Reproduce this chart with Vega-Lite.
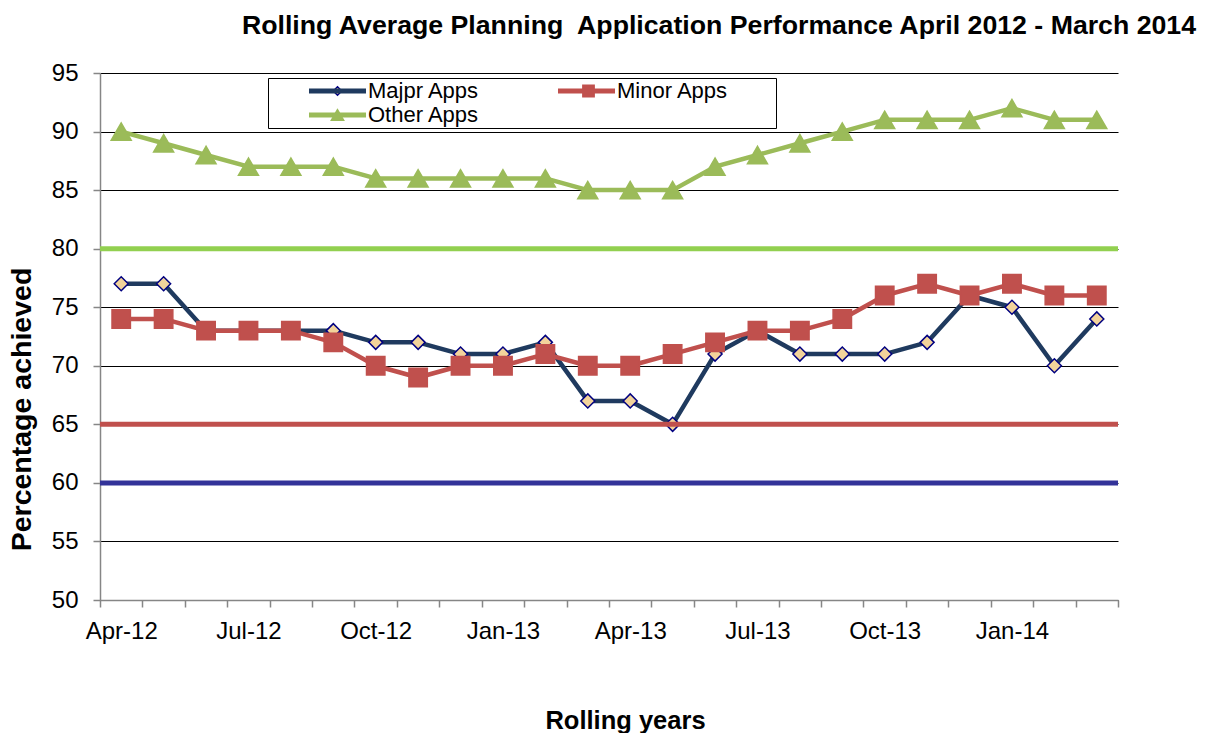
{
  "$schema": "https://vega.github.io/schema/vega-lite/v6.json",
  "width": 1018,
  "height": 527,
  "autosize": {"type": "none"},
  "padding": {"left": 100, "top": 73, "right": 94, "bottom": 133},
  "background": "white",
  "title": {
    "text": "Rolling Average Planning\u00a0 Application Performance April 2012 - March 2014",
    "fontSize": 26.7,
    "fontWeight": "bold",
    "font": "Liberation Sans",
    "color": "black",
    "anchor": "middle",
    "frame": "group",
    "dx": 110,
    "offset": 21
  },
  "datasets": {
    "perf": [
      {"month": "Apr-12", "series": "Majpr Apps", "value": 77},
      {"month": "May-12", "series": "Majpr Apps", "value": 77},
      {"month": "Jun-12", "series": "Majpr Apps", "value": 73},
      {"month": "Jul-12", "series": "Majpr Apps", "value": 73},
      {"month": "Aug-12", "series": "Majpr Apps", "value": 73},
      {"month": "Sep-12", "series": "Majpr Apps", "value": 73},
      {"month": "Oct-12", "series": "Majpr Apps", "value": 72},
      {"month": "Nov-12", "series": "Majpr Apps", "value": 72},
      {"month": "Dec-12", "series": "Majpr Apps", "value": 71},
      {"month": "Jan-13", "series": "Majpr Apps", "value": 71},
      {"month": "Feb-13", "series": "Majpr Apps", "value": 72},
      {"month": "Mar-13", "series": "Majpr Apps", "value": 67},
      {"month": "Apr-13", "series": "Majpr Apps", "value": 67},
      {"month": "May-13", "series": "Majpr Apps", "value": 65},
      {"month": "Jun-13", "series": "Majpr Apps", "value": 71},
      {"month": "Jul-13", "series": "Majpr Apps", "value": 73},
      {"month": "Aug-13", "series": "Majpr Apps", "value": 71},
      {"month": "Sep-13", "series": "Majpr Apps", "value": 71},
      {"month": "Oct-13", "series": "Majpr Apps", "value": 71},
      {"month": "Nov-13", "series": "Majpr Apps", "value": 72},
      {"month": "Dec-13", "series": "Majpr Apps", "value": 76},
      {"month": "Jan-14", "series": "Majpr Apps", "value": 75},
      {"month": "Feb-14", "series": "Majpr Apps", "value": 70},
      {"month": "Mar-14", "series": "Majpr Apps", "value": 74},
      {"month": "Apr-12", "series": "Minor Apps", "value": 74},
      {"month": "May-12", "series": "Minor Apps", "value": 74},
      {"month": "Jun-12", "series": "Minor Apps", "value": 73},
      {"month": "Jul-12", "series": "Minor Apps", "value": 73},
      {"month": "Aug-12", "series": "Minor Apps", "value": 73},
      {"month": "Sep-12", "series": "Minor Apps", "value": 72},
      {"month": "Oct-12", "series": "Minor Apps", "value": 70},
      {"month": "Nov-12", "series": "Minor Apps", "value": 69},
      {"month": "Dec-12", "series": "Minor Apps", "value": 70},
      {"month": "Jan-13", "series": "Minor Apps", "value": 70},
      {"month": "Feb-13", "series": "Minor Apps", "value": 71},
      {"month": "Mar-13", "series": "Minor Apps", "value": 70},
      {"month": "Apr-13", "series": "Minor Apps", "value": 70},
      {"month": "May-13", "series": "Minor Apps", "value": 71},
      {"month": "Jun-13", "series": "Minor Apps", "value": 72},
      {"month": "Jul-13", "series": "Minor Apps", "value": 73},
      {"month": "Aug-13", "series": "Minor Apps", "value": 73},
      {"month": "Sep-13", "series": "Minor Apps", "value": 74},
      {"month": "Oct-13", "series": "Minor Apps", "value": 76},
      {"month": "Nov-13", "series": "Minor Apps", "value": 77},
      {"month": "Dec-13", "series": "Minor Apps", "value": 76},
      {"month": "Jan-14", "series": "Minor Apps", "value": 77},
      {"month": "Feb-14", "series": "Minor Apps", "value": 76},
      {"month": "Mar-14", "series": "Minor Apps", "value": 76},
      {"month": "Apr-12", "series": "Other Apps", "value": 90},
      {"month": "May-12", "series": "Other Apps", "value": 89},
      {"month": "Jun-12", "series": "Other Apps", "value": 88},
      {"month": "Jul-12", "series": "Other Apps", "value": 87},
      {"month": "Aug-12", "series": "Other Apps", "value": 87},
      {"month": "Sep-12", "series": "Other Apps", "value": 87},
      {"month": "Oct-12", "series": "Other Apps", "value": 86},
      {"month": "Nov-12", "series": "Other Apps", "value": 86},
      {"month": "Dec-12", "series": "Other Apps", "value": 86},
      {"month": "Jan-13", "series": "Other Apps", "value": 86},
      {"month": "Feb-13", "series": "Other Apps", "value": 86},
      {"month": "Mar-13", "series": "Other Apps", "value": 85},
      {"month": "Apr-13", "series": "Other Apps", "value": 85},
      {"month": "May-13", "series": "Other Apps", "value": 85},
      {"month": "Jun-13", "series": "Other Apps", "value": 87},
      {"month": "Jul-13", "series": "Other Apps", "value": 88},
      {"month": "Aug-13", "series": "Other Apps", "value": 89},
      {"month": "Sep-13", "series": "Other Apps", "value": 90},
      {"month": "Oct-13", "series": "Other Apps", "value": 91},
      {"month": "Nov-13", "series": "Other Apps", "value": 91},
      {"month": "Dec-13", "series": "Other Apps", "value": 91},
      {"month": "Jan-14", "series": "Other Apps", "value": 92},
      {"month": "Feb-14", "series": "Other Apps", "value": 91},
      {"month": "Mar-14", "series": "Other Apps", "value": 91}
    ],
    "targets": [
      {"target": "Majpr target", "level": 60},
      {"target": "Minor target", "level": 65},
      {"target": "Other target", "level": 80}
    ]
  },
  "layer": [
    {
      "data": {"name": "perf"},
      "mark": {"type": "line", "strokeWidth": 4.5, "strokeJoin": "round"},
      "encoding": {
        "x": {
          "field": "month", "type": "ordinal", "sort": null,
          "scale": {"type": "band", "paddingInner": 0, "paddingOuter": 0},
          "title": "Rolling years"
        },
        "y": {
          "field": "value", "type": "quantitative",
          "scale": {"domain": [50, 95], "nice": false, "zero": false},
          "title": "Percentage achieved"
        },
        "color": {
          "field": "series", "type": "nominal",
          "scale": {"range": ["#1F3A5F", "#C0504D", "#9BBB59"]},
          "legend": {
            "orient": "none", "legendX": 207, "legendY": 5,
            "direction": "horizontal", "columns": 2, "columnPadding": 67, "rowPadding": 2,
            "title": null,
            "symbolType": "M-3.353,0H3.353", "symbolSize": 289, "symbolStrokeWidth": 5, "symbolOffset": 17.5,
            "labelFontSize": 22, "labelColor": "black", "labelOffset": 19.5, "labelLimit": 400,
            "padding": 2
          }
        }
      }
    },
    {
      "data": {"name": "perf"},
      "mark": {"type": "point", "filled": true, "opacity": 1, "strokeWidth": 1.5, "size": 400},
      "encoding": {
        "x": {
          "field": "month", "type": "ordinal", "sort": null,
          "scale": {"type": "band", "paddingInner": 0, "paddingOuter": 0},
          "title": "Rolling years"
        },
        "y": {"field": "value", "type": "quantitative", "title": "Percentage achieved"},
        "shape": {
          "field": "series", "type": "nominal",
          "scale": {
            "domain": ["Majpr Apps", "Minor Apps", "Other Apps"],
            "range": ["M-0.7,0L0,-0.7L0.7,0L0,0.7Z", "M-0.92,-0.92H0.92V0.92H-0.92Z", "triangle-up"]
          },
          "legend": {
            "orient": "none", "legendX": 168, "legendY": 5,
            "direction": "horizontal", "columns": 2, "columnPadding": 41, "rowPadding": 2,
            "title": "\u00a0", "titleOrient": "right", "titlePadding": 44, "titleFontSize": 10,
            "symbolSize": 150, "symbolStrokeWidth": 1.5, "symbolOffset": 56.5,
            "labelFontSize": 22, "labelColor": "transparent", "labelOffset": 19.5, "labelLimit": 400,
            "strokeColor": "black", "padding": 2
          }
        },
        "fill": {
          "field": "series", "type": "nominal",
          "scale": {"domain": ["Majpr Apps", "Minor Apps", "Other Apps"], "range": ["#F2D39B", "#C0504D", "#9BBB59"]}
        },
        "stroke": {
          "field": "series", "type": "nominal",
          "scale": {"domain": ["Majpr Apps", "Minor Apps", "Other Apps"], "range": ["#000080", "#C0504D", "#9BBB59"]}
        }
      }
    },
    {
      "data": {"name": "targets"},
      "mark": {"type": "rule", "strokeWidth": 5},
      "encoding": {
        "y": {"field": "level", "type": "quantitative", "title": "Percentage achieved"},
        "color": {
          "field": "target", "type": "nominal",
          "scale": {"domain": ["Majpr target", "Minor target", "Other target"], "range": ["#333399", "#C0504D", "#92D050"]},
          "legend": null
        }
      }
    }
  ],
  "resolve": {"scale": {"color": "independent"}},
  "config": {
    "font": "Liberation Sans",
    "view": {"stroke": null},
    "axisX": {
      "labelExpr": "indexof(['Apr-12','Jul-12','Oct-12','Jan-13','Apr-13','Jul-13','Oct-13','Jan-14'], datum.value) >= 0 ? datum.value : ''",
      "labelAngle": 0, "labelOverlap": false, "labelFontSize": 24, "labelColor": "black", "labelPadding": 12,
      "tickBand": "extent", "tickSize": 7, "tickColor": "#868686", "tickWidth": 1.5,
      "domainColor": "#868686", "domainWidth": 1.5, "grid": false,
      "titleFontSize": 25.5, "titleFontWeight": "bold", "titleColor": "black",
      "titleX": 525, "titleY": 108, "titleBaseline": "top"
    },
    "axisY": {
      "values": [50, 55, 60, 65, 70, 75, 80, 85, 90, 95],
      "labelFontSize": 24, "labelColor": "black", "labelPadding": 15,
      "tickSize": 7, "tickColor": "#868686", "tickWidth": 1.5,
      "domainColor": "#868686", "domainWidth": 1.5,
      "grid": true, "gridColor": "black", "gridWidth": 1,
      "titleFontSize": 28.5, "titleFontWeight": "bold", "titleColor": "black",
      "titleX": -64, "titleY": 336
    }
  }
}
